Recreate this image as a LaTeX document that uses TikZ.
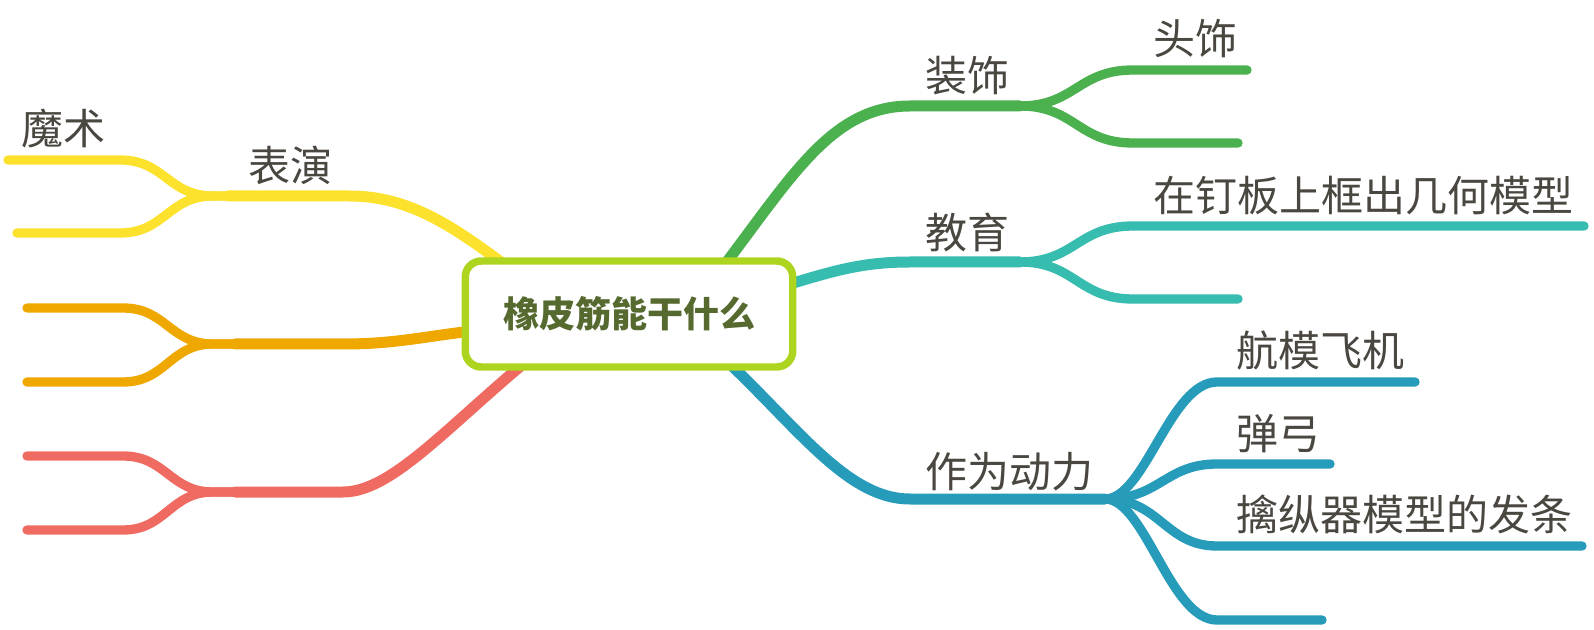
\documentclass[tikz,border=0pt]{standalone}
\usepackage{fontspec}
\setmainfont{Noto Sans CJK SC}
\definecolor{cYel}{HTML}{FCE22D}
\definecolor{cOra}{HTML}{EEA800}
\definecolor{cRed}{HTML}{EF6B62}
\definecolor{cGrn}{HTML}{4BB14F}
\definecolor{cTea}{HTML}{37BCB0}
\definecolor{cBlu}{HTML}{279CBA}
\definecolor{cBox}{HTML}{ADD51F}
\definecolor{cLbl}{HTML}{4A4640}
\definecolor{cRoot}{HTML}{566A30}
\pgfdeclarelayer{lines}
\pgfsetlayers{lines,main}
\tikzset{
  trunk/.style={line width=8.25pt, line cap=round},
  twig/.style={line width=7pt, line cap=round},
  lbl/.style={font=\fontsize{31.5pt}{36pt}\selectfont, text=cLbl, inner sep=0pt, anchor=base west},
  rootbox/.style={draw=cBox, line width=5.6pt, fill=white, rounded corners=12pt,
    minimum width=245.6pt, minimum height=79.5pt, inner sep=0pt,
    font=\fontsize{27pt}{30pt}\selectfont\bfseries, text=cRoot}
}
\begin{document}
\begin{tikzpicture}[x=0.75pt,y=-0.75pt]
\useasboundingbox (0,0) rectangle (1594,630);
% root
\node[rootbox] (root) at (629,314) {橡皮筋能干什么};
% labels
\node[lbl] (moshu) at (21,145) {魔术};
\node[lbl] (biaoyan) at (248,182) {表演};
\node[lbl] (zhuangshi) at (925,92) {装饰};
\node[lbl] (toushi) at (1153,55) {头饰};
\node[lbl] (jiaoyu) at (925,249) {教育};
\node[lbl] (dingban) at (1153,212) {在钉板上框出几何模型};
\node[lbl] (dongli) at (925,487) {作为动力};
\node[lbl] (hangmo) at (1236,367) {航模飞机};
\node[lbl] (dangong) at (1236,449) {弹弓};
\node[lbl] (qinzong) at (1236,530) {擒纵器模型的发条};
% junction and end coordinates
\coordinate (yS) at (505,265);
\coordinate (yJ) at (228,196);
\coordinate (yA) at (8,160);
\coordinate (yB) at (17,233);
\coordinate (oS) at (480,330);
\coordinate (oJ) at (235,344);
\coordinate (oA) at (27,308);
\coordinate (oB) at (27,382);
\coordinate (rS) at (540,350);
\coordinate (rJ) at (235,492);
\coordinate (rA) at (27,456);
\coordinate (rB) at (27,530);
\coordinate (gS) at (716,276);
\coordinate (gJ) at (1020,106);
\coordinate (gA) at (1247,70);
\coordinate (gB) at (1238,143);
\coordinate (tS) at (780,287);
\coordinate (tJ) at (1020,262);
\coordinate (tA) at (1584,226);
\coordinate (tB) at (1238,299);
\coordinate (bS) at (715,350);
\coordinate (bJ) at (1105,499);
\coordinate (bA) at (1415,382);
\coordinate (bB) at (1330,464);
\coordinate (bC) at (1582,546);
\coordinate (bD) at (1322,620);
\begin{pgfonlayer}{lines}
% yellow
\draw[trunk,cYel] (yJ) -- (350,196) .. controls (410,196) and (455,228) .. (yS);
\draw[twig,cYel] (yJ) -- (213,196) .. controls (168,196) and (165,160) .. (120,160) -- (yA);
\draw[twig,cYel] (yJ) -- (213,196) .. controls (168,196) and (165,233) .. (120,233) -- (yB);
% orange
\draw[trunk,cOra] (oJ) -- (343,344) .. controls (395,344) and (420,337) .. (oS);
\draw[twig,cOra] (oJ) -- (213,344) .. controls (170,344) and (166,308) .. (123,308) -- (oA);
\draw[twig,cOra] (oJ) -- (213,344) .. controls (170,344) and (166,382) .. (123,382) -- (oB);
% red
\draw[trunk,cRed] (rJ) -- (343,492) .. controls (393,492) and (450,423) .. (rS);
\draw[twig,cRed] (rJ) -- (213,492) .. controls (170,492) and (166,456) .. (123,456) -- (rA);
\draw[twig,cRed] (rJ) -- (213,492) .. controls (170,492) and (166,530) .. (123,530) -- (rB);
% green
\draw[trunk,cGrn] (gS) .. controls (790,180) and (830,106) .. (910,106) -- (gJ);
\draw[twig,cGrn] (gJ) .. controls (1075,106) and (1078,70) .. (1133,70) -- (gA);
\draw[twig,cGrn] (gJ) .. controls (1075,106) and (1078,143) .. (1133,143) -- (gB);
% teal
\draw[trunk,cTea] (tS) .. controls (830,272) and (860,262) .. (910,262) -- (tJ);
\draw[twig,cTea] (tJ) .. controls (1075,262) and (1078,226) .. (1133,226) -- (tA);
\draw[twig,cTea] (tJ) .. controls (1075,262) and (1078,299) .. (1133,299) -- (tB);
% blue
\draw[trunk,cBlu] (bS) .. controls (795,423) and (845,499) .. (910,499) -- (bJ);
\draw[twig,cBlu] (bJ) .. controls (1145,499) and (1170,382) .. (1217,382) -- (bA);
\draw[twig,cBlu] (bJ) .. controls (1160,499) and (1165,464) .. (1217,464) -- (bB);
\draw[twig,cBlu] (bJ) .. controls (1160,499) and (1165,546) .. (1217,546) -- (bC);
\draw[twig,cBlu] (bJ) .. controls (1145,499) and (1170,620) .. (1217,620) -- (bD);
\end{pgfonlayer}
\end{tikzpicture}
\end{document}
